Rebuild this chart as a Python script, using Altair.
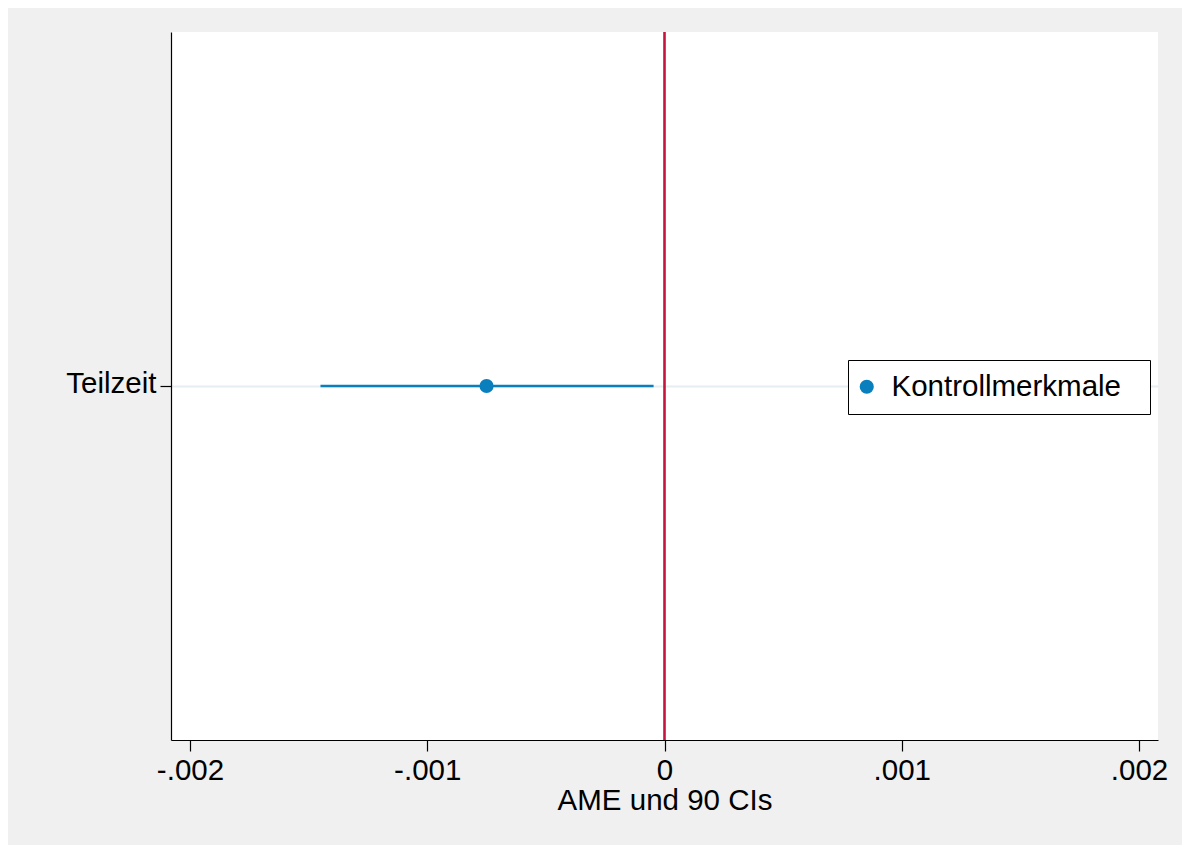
import altair as alt
import pandas as pd

# ---- data ----
categories = ["Teilzeit"]
series = ["Kontrollmerkmale"]
ame = [-0.00075]
ci_lo = [-0.00145]
ci_hi = [-0.000046]
zero_line = [0.0]
x_ticks = [-0.002, -0.001, 0.0, 0.001, 0.002]
x_domain = [-0.00208, 0.00208]

BLUE = "#0a7fbe"
RED = "#c8143c"
FONT = "Liberation Sans"
FS = 29.5

df = pd.DataFrame({
    "var": categories,
    "series": series,
    "ame": ame,
    "lo": ci_lo,
    "hi": ci_hi,
})
zdf = pd.DataFrame({"x": zero_line})

label_expr = ("datum.value == 0 ? '0' : (datum.value < 0 ? '-' : '') + '.' + "
              "format(abs(datum.value) * 1000, '03d')")

x_enc = alt.X(
    "ame:Q",
    scale=alt.Scale(domain=x_domain, nice=False, zero=False),
    axis=alt.Axis(
        values=x_ticks,
        labelExpr=label_expr,
        title="AME und 90 CIs",
        grid=False,
        tickSize=11,
        labelPadding=28,
        labelBaseline="alphabetic",
        titleBaseline="alphabetic",
        titleY=69,
    ),
)
y_enc = alt.Y(
    "var:N",
    scale=alt.Scale(type="point", padding=0.5),
    axis=alt.Axis(
        title=None,
        grid=True,
        gridColor="#e6eef1",
        gridWidth=2,
        tickSize=11,
        labelPadding=4,
        labelOffset=-3,
    ),
)

ci = alt.Chart(df).mark_rule(color=BLUE, strokeWidth=2.6).encode(
    x=alt.X("lo:Q", scale=alt.Scale(domain=x_domain, nice=False, zero=False)),
    x2="hi:Q",
    y=y_enc,
)

pts = alt.Chart(df).mark_point(filled=True, opacity=1, size=200).encode(
    x=x_enc,
    y=alt.Y("var:N"),
    color=alt.Color(
        "series:N",
        scale=alt.Scale(domain=series, range=[BLUE]),
        legend=alt.Legend(
            title=None,
            orient="none",
            legendX=677,
            legendY=328,
            fillColor="white",
            strokeColor="black",
            padding=12,
            labelFontSize=FS,
            labelFont=FONT,
            labelColor="black",
            labelOffset=10,
            labelLimit=400,
            symbolSize=200,
            symbolType="circle",
            symbolOffset=-8,
            labelExpr="datum.label + '\u00a0\u00a0\u200b'",
        ),
    ),
)

zero = alt.Chart(zdf).mark_rule(color=RED, strokeWidth=2.6).encode(
    x=alt.X("x:Q"),
)

chart = alt.layer(ci, zero, pts).properties(
    width=987,
    height=708,
    padding={"left": 163, "top": 24, "right": 24, "bottom": 105},
    autosize=alt.AutoSizeParams(type="none"),
    background="#f0f0f0",
).configure_view(
    fill="white",
    stroke=None,
).configure_axis(
    domainColor="black",
    domainWidth=1.2,
    tickColor="black",
    tickWidth=1.2,
    labelFont=FONT,
    labelFontSize=FS,
    labelColor="black",
    titleFont=FONT,
    titleFontSize=FS,
    titleFontWeight="normal",
    titleColor="black",
)

chart.save("out.html", embed_options={"renderer": "svg", "actions": False})
